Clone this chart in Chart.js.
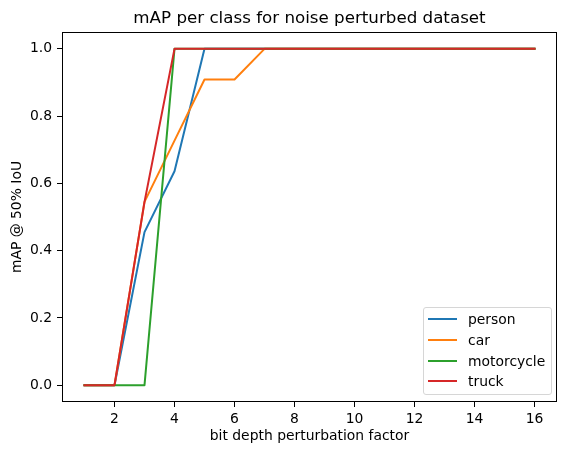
<!DOCTYPE html>
<html>
<head>
<meta charset="utf-8">
<script src="https://cdn.jsdelivr.net/npm/chart.js@4.4.0/dist/chart.umd.min.js"></script>
<style>
  body { margin: 0; background: #fff; }
  #wrap { position: relative; width: 567px; height: 455px; }
  #legend {
    position: absolute; left: 423px; top: 307px; width: 129px; height: 88px;
    box-sizing: border-box; border: 1px solid #d6d6d6; border-radius: 3px;
    background: rgba(255,255,255,0.8); padding: 1px 0 0 4px;
    font: 13.9px "DejaVu Sans", sans-serif; color: #000;
  }
  .item { display: flex; align-items: center; height: 20.7px; }
  .swatch { width: 29px; height: 2px; margin-right: 11px; }
</style>
</head>
<body>
<div id="wrap">
  <canvas id="chart" width="567" height="455"></canvas>
  <div id="legend"></div>
</div>
<script>
// bit depth perturbation factor
var xValues = [1, 2, 3, 4, 5, 6, 7, 8, 9, 10, 11, 12, 13, 14, 15, 16];
var xTicks = [2, 4, 6, 8, 10, 12, 14, 16];
var yTicks = [0, 0.2, 0.4, 0.6, 0.8, 1.0];

var person     = [0, 0, 0.455, 0.636, 1, 1, 1, 1, 1, 1, 1, 1, 1, 1, 1, 1];
var car        = [0, 0, 0.545, 0.727, 0.909, 0.909, 1, 1, 1, 1, 1, 1, 1, 1, 1, 1];
var motorcycle = [0, 0, 0, 1, 1, 1, 1, 1, 1, 1, 1, 1, 1, 1, 1, 1];
var truck      = [0, 0, 0.545, 1, 1, 1, 1, 1, 1, 1, 1, 1, 1, 1, 1, 1];

var labels = ['person', 'car', 'motorcycle', 'truck'];
var series = [person, car, motorcycle, truck];
var colors = ['#1f77b4', '#ff7f0e', '#2ca02c', '#d62728'];

var FONT = 'DejaVu Sans';

var datasets = series.map(function (values, i) {
  return {
    label: labels[i],
    data: values.map(function (v, j) { return { x: xValues[j], y: v }; }),
    borderColor: colors[i],
    backgroundColor: colors[i],
    borderWidth: 2,
    borderCapStyle: 'square',
    borderJoinStyle: 'round',
    pointRadius: 0,
    tension: 0,
    order: labels.length - i
  };
});

var frame = {
  id: 'frame',
  afterDraw: function (chart) {
    var a = chart.chartArea, ctx = chart.ctx;
    ctx.save();
    ctx.strokeStyle = '#000';
    ctx.lineWidth = 1;
    ctx.strokeRect(Math.round(a.left) + 0.5, Math.round(a.top) + 0.5,
                   Math.round(a.right - a.left) - 1, Math.round(a.bottom - a.top) - 1);
    ctx.restore();
  }
};

new Chart(document.getElementById('chart'), {
  type: 'line',
  data: { datasets: datasets },
  options: {
    responsive: false,
    animation: false,
    devicePixelRatio: 1,
    layout: { padding: { left: 0, right: 10, top: 0, bottom: 0 } },
    plugins: {
      legend: { display: false },
      tooltip: { enabled: false },
      title: {
        display: true,
        fullSize: false,
        text: 'mAP per class for noise perturbed dataset',
        color: '#000',
        font: { family: FONT, size: 16.7, weight: 'normal' },
        padding: { top: 9, bottom: 3 }
      }
    },
    scales: {
      x: {
        type: 'linear',
        min: 0.25,
        max: 16.75,
        afterBuildTicks: function (s) { s.ticks = xTicks.map(function (v) { return { value: v }; }); },
        afterFit: function (s) { s.height = 53; },
        grid: { display: true, drawOnChartArea: false, drawTicks: true, tickLength: 5, color: '#000' },
        border: { display: false },
        ticks: { color: '#000', padding: 4, maxRotation: 0, font: { family: FONT, size: 13.9 },
                 callback: function (v) { return String(v); } },
        title: { display: true, text: 'bit depth perturbation factor', color: '#000',
                 font: { family: FONT, size: 13.9 }, padding: { top: 0, bottom: 10 } }
      },
      y: {
        min: -0.05,
        max: 1.05,
        afterBuildTicks: function (s) { s.ticks = yTicks.map(function (v) { return { value: v }; }); },
        afterFit: function (s) { s.width = 62; },
        grid: { display: true, drawOnChartArea: false, drawTicks: true, tickLength: 5, color: '#000' },
        border: { display: false },
        ticks: { color: '#000', padding: 5, font: { family: FONT, size: 13.9 },
                 callback: function (v) { return v.toFixed(1); } },
        title: { display: true, text: 'mAP @ 50% IoU', color: '#000',
                 font: { family: FONT, size: 13.9 }, padding: { top: 9, bottom: 0 } }
      }
    }
  },
  plugins: [frame]
});

// legend in the lower right of the plot, like the reference
var legend = document.getElementById('legend');
labels.forEach(function (name, i) {
  var row = document.createElement('div');
  row.className = 'item';
  var sw = document.createElement('span');
  sw.className = 'swatch';
  sw.style.background = colors[i];
  var txt = document.createElement('span');
  txt.textContent = name;
  row.appendChild(sw);
  row.appendChild(txt);
  legend.appendChild(row);
});
</script>
</body>
</html>
